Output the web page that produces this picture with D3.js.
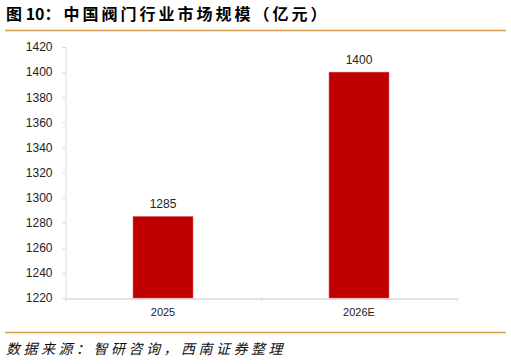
<!DOCTYPE html>
<html>
<head>
<meta charset="utf-8">
<script src="https://cdn.jsdelivr.net/npm/d3@7"></script>
<style>
  body { margin: 0; background: #fff; }
  svg { display: block; font-family: "Liberation Sans", Arial, sans-serif; }
</style>
</head>
<body>
<div id="chart"></div>
<script>
// data
const years = ['2025', '2026E'];
const marketSize = [1285, 1400];
const yTicks = [1220, 1240, 1260, 1280, 1300, 1320, 1340, 1360, 1380, 1400, 1420];

const W = 511, H = 364;
const svg = d3.select('#chart').append('svg')
    .attr('width', W)
    .attr('height', H);

// title
const title = svg.append('text')
    .attr('x', 6)
    .attr('y', 20)
    .style('font-family', '"Noto Sans CJK SC", sans-serif')
    .style('font-size', '16px')
    .style('font-weight', 'bold')
    .attr('fill', '#000');
title.append('tspan').text('图 10：');
title.append('tspan').style('letter-spacing', '3px').attr('dx', 3).text('中国阀门行业市场规模（亿元）');

svg.append('line')
    .attr('x1', 5).attr('x2', 506)
    .attr('y1', 30.5).attr('y2', 30.5)
    .attr('stroke', '#d4a04e')
    .attr('stroke-width', 1.5);

const x = d3.scaleBand()
    .domain(years)
    .range([65, 457])
    .paddingInner(0)
    .paddingOuter(0);

const y = d3.scaleLinear()
    .domain([1220, 1420])
    .range([298, 47]);

// y axis
const yAxis = svg.append('g')
    .attr('transform', 'translate(65.5,0)')
    .call(d3.axisLeft(y).tickValues(yTicks).tickSize(3).tickPadding(10).tickFormat(d3.format('d')));
yAxis.select('.domain').attr('stroke', '#d9d9d9');
yAxis.selectAll('.tick line').attr('stroke', '#d9d9d9');
yAxis.selectAll('.tick text')
    .attr('fill', '#222')
    .style('font-size', '12px');

// x axis
const xAxis = svg.append('g')
    .attr('transform', 'translate(0,' + (y(1220) + 0.5) + ')')
    .call(d3.axisBottom(x).tickSize(0).tickPadding(10));
xAxis.select('.domain').attr('stroke', '#d9d9d9').attr('stroke-width', 1.5);
xAxis.selectAll('.tick text')
    .attr('fill', '#222')
    .style('font-size', '11px');
// small separator ticks between bands
xAxis.selectAll('.sep')
    .data([x.range()[0], x(years[1]), x.range()[1]])
    .enter()
    .append('line')
    .attr('class', 'sep')
    .attr('x1', d => d + 0.5).attr('x2', d => d + 0.5)
    .attr('y1', 0).attr('y2', 3)
    .attr('stroke', '#d9d9d9');

// bars
const barW = 60;
const bars = svg.append('g')
    .selectAll('rect')
    .data(marketSize)
    .enter();

bars.append('rect')
    .attr('x', (d, i) => x(years[i]) + x.bandwidth() / 2 - barW / 2)
    .attr('y', d => y(d))
    .attr('width', barW)
    .attr('height', d => y(1220) - y(d))
    .attr('fill', '#c00000')
    .attr('stroke', '#e06060')
    .attr('stroke-width', 0.5);

bars.append('text')
    .attr('x', (d, i) => x(years[i]) + x.bandwidth() / 2)
    .attr('y', d => y(d) - 8)
    .attr('text-anchor', 'middle')
    .attr('fill', '#222')
    .style('font-size', '12px')
    .text(d => d);

// bottom rule + source
svg.append('line')
    .attr('x1', 5).attr('x2', 506)
    .attr('y1', 332.5).attr('y2', 332.5)
    .attr('stroke', '#d4a04e')
    .attr('stroke-width', 1.5);

svg.append('text')
    .attr('x', 6)
    .attr('y', 354)
    .style('font-family', '"Noto Sans CJK SC", sans-serif')
    .style('font-size', '14px')
    .style('font-style', 'italic')
    .style('letter-spacing', '3.5px')
    .attr('fill', '#111')
    .text('数据来源：智研咨询，西南证券整理');
</script>
</body>
</html>
